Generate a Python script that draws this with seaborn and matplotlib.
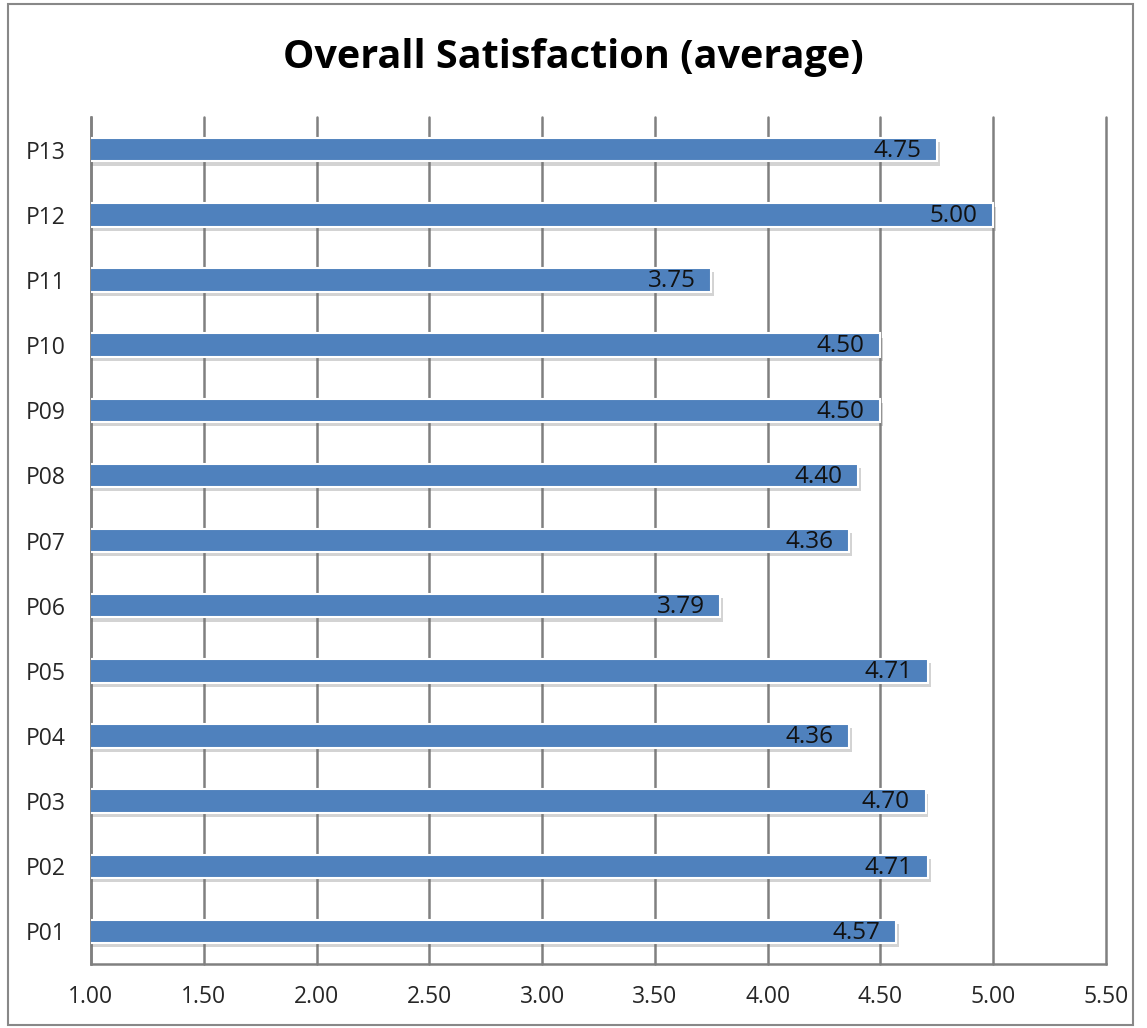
import matplotlib
matplotlib.use("Agg")
import matplotlib.pyplot as plt
import matplotlib.patheffects as pe
import seaborn as sns
import numpy as np
import pandas as pd

# data
participants = ["P01", "P02", "P03", "P04", "P05", "P06", "P07",
                "P08", "P09", "P10", "P11", "P12", "P13"]
satisfaction = [4.57, 4.71, 4.70, 4.36, 4.71, 3.79, 4.36,
                4.40, 4.50, 4.50, 3.75, 5.00, 4.75]
x_ticks = [1.0, 1.5, 2.0, 2.5, 3.0, 3.5, 4.0, 4.5, 5.0, 5.5]

df = pd.DataFrame({"Participant": participants, "Score": satisfaction})
order = participants[::-1]  # P13 at the top

sns.set_style("white")
plt.rcParams["font.family"] = ["Open Sans", "DejaVu Sans"]

fig = plt.figure(figsize=(11.47, 10.28), dpi=100)
ax = fig.add_axes([0.0793, 0.0623, 0.885, 0.8237])

sns.barplot(data=df, y="Participant", x="Score", order=order, orient="h",
            color="#4F81BD", saturation=1, width=0.36, edgecolor="white",
            linewidth=1.5, ax=ax, zorder=3)

for bar in ax.patches:
    bar.set_path_effects([pe.SimplePatchShadow(offset=(2, -3), shadow_rgbFace="#707070", alpha=0.3),
                          pe.Normal()])

# value labels inside the bar end
for bar, cat in zip(ax.patches, order):
    val = df.loc[df["Participant"] == cat, "Score"].iloc[0]
    ax.text(val - 0.07, bar.get_y() + bar.get_height() / 2 + 0.02, f"{val:.2f}",
            ha="right", va="center", fontsize=17.5, color="#111111", zorder=4)

ax.set_xlim(1.0, 5.5)
ax.set_xticks(x_ticks)
ax.set_xticklabels([f"{t:.2f}" for t in x_ticks], fontsize=16.5)
ax.xaxis.grid(True, color="#808080", linewidth=1.8, zorder=0)
for gl in ax.get_xgridlines():
    gl.set_clip_on(False)
ax.set_axisbelow(True)

n = len(order)
ax.set_ylim(n - 0.5, -0.5)
ax.set_yticks(np.arange(n))
ax.set_yticklabels(order, fontsize=16.5)
ax.set_yticks(np.arange(n + 1) - 0.5, minor=True)
ax.tick_params(axis="y", which="major", length=0, pad=18)
ax.tick_params(axis="y", which="minor", length=6, width=1.5, color="#808080", direction="out")
ax.tick_params(axis="x", length=7, width=1.5, color="#808080", direction="out", pad=8)

for side in ["top", "right"]:
    ax.spines[side].set_visible(False)
for side in ["left", "bottom"]:
    ax.spines[side].set_color("#808080")
    ax.spines[side].set_linewidth(1.8)

ax.set_xlabel("")
ax.set_ylabel("")

fig.text(0.5, 0.944, "Overall Satisfaction (average)", ha="center", va="center",
         fontsize=28.5, fontweight="bold", color="black")

# outer chart border
fig.patches.append(plt.Rectangle((0.007, 0.003), 0.981, 0.993, transform=fig.transFigure,
                                 fill=False, edgecolor="#888888", linewidth=1.5))

fig.savefig("out.png", dpi=100)
